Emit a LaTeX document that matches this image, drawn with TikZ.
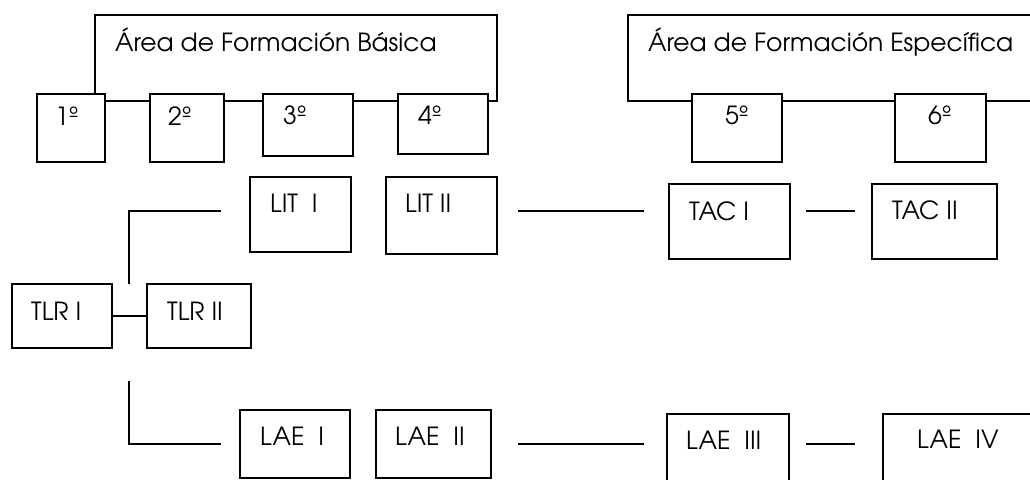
\documentclass[tikz,border=0pt]{standalone}
\usepackage{fontspec}
\setmainfont{TeX Gyre Adventor}
\begin{document}
\begin{tikzpicture}[x=1pt,y=-1pt,
  frame/.style={draw,line width=1.6pt,inner sep=0pt},
  box/.style={draw,line width=1.6pt,fill=white,inner sep=0pt},
  txt/.style={anchor=base west,inner sep=0pt,font=\fontsize{25}{29}\selectfont},
  conn/.style={line width=1.6pt}]
\useasboundingbox (0,0) rectangle (1030,479);
% frames
\node[frame,minimum width=402,minimum height=86] (fb) at (296,58) {};
\node[frame,minimum width=412,minimum height=86] (fe) at (834,58) {};
\node[txt] (tb) at (115,51) {Área de Formación Básica};
\node[txt] (te) at (648,51) {Área de Formación Específica};
% years
\node[box,minimum width=68,minimum height=68] (y1) at (71,128) {};
\node[box,minimum width=74,minimum height=68] (y2) at (187,128) {};
\node[box,minimum width=90,minimum height=62] (y3) at (308,125) {};
\node[box,minimum width=90,minimum height=60] (y4) at (443,124) {};
\node[box,minimum width=90,minimum height=68] (y5) at (737,128) {};
\node[box,minimum width=91,minimum height=68] (y6) at (940.5,128) {};
\node[txt] (ty1) at (55,125) {1º};
\node[txt] (ty2) at (168,125) {2º};
\node[txt] (ty3) at (283,124) {3º};
\node[txt] (ty4) at (418,124) {4º};
\node[txt] (ty5) at (725,124) {5º};
\node[txt] (ty6) at (928,124) {6º};
% subject boxes
\node[box,minimum width=101,minimum height=75] (lit1) at (300.5,214.5) {};
\node[box,minimum width=111,minimum height=77] (lit2) at (441.5,215.5) {};
\node[box,minimum width=121,minimum height=75] (tac1) at (729.5,221.5) {};
\node[box,minimum width=125,minimum height=75] (tac2) at (934.5,221.5) {};
\node[box,minimum width=100,minimum height=64] (tlr1) at (62,316) {};
\node[box,minimum width=104,minimum height=64] (tlr2) at (199,316) {};
\node[box,minimum width=110,minimum height=68] (lae1) at (295,444) {};
\node[box,minimum width=115,minimum height=68] (lae2) at (433.5,444) {};
\node[box,minimum width=122,minimum height=71] (lae3) at (728,449.5) {};
\node[box,minimum width=157,minimum height=71] (lae4) at (961.5,449.5) {};
\node[txt] (tlit1) at (270,212) {LIT\ \ I};
\node[txt] (tlit2) at (405,212) {LIT II};
\node[txt] (ttac1) at (689,220) {TAC I};
\node[txt] (ttac2) at (892,219) {TAC II};
\node[txt] (ttlr1) at (31,320) {TLR I};
\node[txt] (ttlr2) at (167,320) {TLR II};
\node[txt] (tlae1) at (260,445) {LAE\ \ I};
\node[txt] (tlae2) at (395,445) {LAE\ \ II};
\node[txt] (tlae3) at (686,449) {LAE\ \ III};
\node[txt] (tlae4) at (917,448) {LAE\ \ IV};
% connectors
\coordinate (ua) at (129,284);
\coordinate (ub) at (221,211);
\coordinate (la) at (129,381);
\coordinate (lb) at (221,444);
\coordinate (m1a) at (518,211);
\coordinate (m1b) at (644,211);
\coordinate (m2a) at (806,211);
\coordinate (m2b) at (855,211);
\coordinate (m3a) at (518,444);
\coordinate (m3b) at (644,444);
\coordinate (m4a) at (806,444);
\coordinate (m4b) at (855,444);
\draw[conn] (tlr1) -- (tlr2);
\draw[conn] (ua) |- (ub);
\draw[conn] (la) |- (lb);
\draw[conn] (m1a) -- (m1b);
\draw[conn] (m2a) -- (m2b);
\draw[conn] (m3a) -- (m3b);
\draw[conn] (m4a) -- (m4b);
\end{tikzpicture}
\end{document}
